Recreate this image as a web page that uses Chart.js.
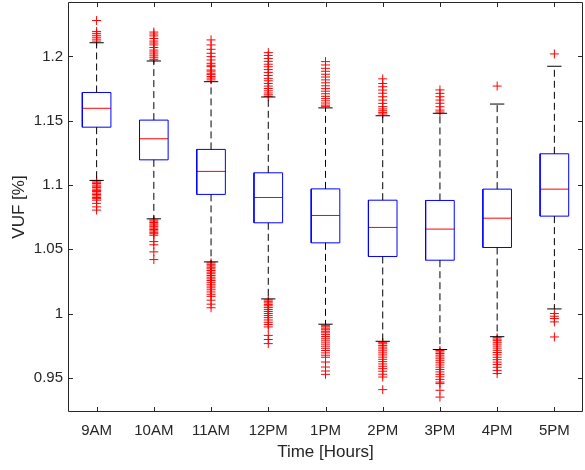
<!DOCTYPE html>
<html lang="en">
  <head>
    <meta charset="UTF-8" />
    <title>VUF by hour</title>
    <script src="https://cdn.jsdelivr.net/npm/chart.js"></script>
    <style>
      body { margin: 0; background: #fff; }
    </style>
  </head>
  <body>
    <canvas id="my-chart" width="585" height="470"></canvas>

    <script>
      //categories and tick labels
      const hours = ["9AM", "10AM", "11AM", "12PM", "1PM", "2PM", "3PM", "4PM", "5PM"];
      const yTicks = [0.95, 1, 1.05, 1.1, 1.15, 1.2];
      const yTickLabels = ["0.95", "1", "1.05", "1.1", "1.15", "1.2"];

      //box statistics
      const q1 = [1.145, 1.1196, 1.0927, 1.0706, 1.055, 1.0444, 1.0415, 1.0514, 1.0758];
      const medians = [1.1597, 1.136, 1.1106, 1.0903, 1.0763, 1.067, 1.0657, 1.0742, 1.0968];
      const q3 = [1.172, 1.1505, 1.1277, 1.1095, 1.097, 1.0882, 1.088, 1.0968, 1.1243];
      const whiskerLow = [1.1036, 1.0737, 1.0402, 1.0114, 0.9917, 0.9784, 0.972, 0.982, 1.0036];
      const whiskerHigh = [1.2107, 1.1965, 1.1804, 1.1685, 1.16, 1.1539, 1.1558, 1.163, 1.1924];

      //outliers per hour
      const outliers = [
        [1.228, 1.2195, 1.218, 1.2165, 1.215, 1.2135, 1.212,
         1.1032, 1.1022, 1.1012, 1.1, 1.0991, 1.098, 1.0968, 1.0958, 1.0949, 1.0937, 1.0926,
         1.0915, 1.0903, 1.0894, 1.0882, 1.0857, 1.083, 1.0805],
        [1.219, 1.2175, 1.216, 1.214, 1.212, 1.2105, 1.209, 1.207, 1.205, 1.2035, 1.202,
         1.2005, 1.199, 1.1975,
         1.0728, 1.0719, 1.0708, 1.0697, 1.0688, 1.0676, 1.0665, 1.0654, 1.0643, 1.0632,
         1.0621, 1.0609, 1.056, 1.0535, 1.048, 1.042],
        [1.2129, 1.209, 1.2056, 1.2025, 1.1999, 1.1973, 1.1947, 1.1921, 1.1895, 1.187,
         1.1844, 1.1818, 1.1932, 1.1886, 1.1859, 1.1832,
         1.0394, 1.0383, 1.0371, 1.036, 1.0348, 1.0335, 1.0322, 1.031, 1.0296, 1.0283,
         1.027, 1.0257, 1.0243, 1.0228, 1.0214, 1.02, 1.0185, 1.0168, 1.015, 1.0134,
         1.0104, 1.0073, 1.0045],
        [1.203, 1.2008, 1.1985, 1.1962, 1.194, 1.192, 1.1898, 1.1876, 1.1852, 1.183, 1.1811,
         1.179, 1.177, 1.1751, 1.1733, 1.1716, 1.1702, 1.169,
         1.0106, 1.0095, 1.0083, 1.0071, 1.006, 1.0046, 1.0031, 1.0016, 1.0, 0.9984,
         0.9968, 0.995, 0.9932, 0.9915, 0.9896, 0.983, 0.9798, 0.9766],
        [1.196, 1.1934, 1.1908, 1.1885, 1.1862, 1.184, 1.1818, 1.1795, 1.1772, 1.175, 1.173,
         1.171, 1.169, 1.1672, 1.1655, 1.1638, 1.1622, 1.1612,
         0.9908, 0.9897, 0.9886, 0.9874, 0.9862, 0.985, 0.9836, 0.9822, 0.9808, 0.9793,
         0.9778, 0.9762, 0.9746, 0.973, 0.9712, 0.9694, 0.9676, 0.966, 0.9623, 0.9584,
         0.9553, 0.9527],
        [1.1826, 1.179, 1.1765, 1.1739, 1.1714, 1.1687, 1.1661, 1.1635, 1.161, 1.1592,
         1.1578, 1.1565, 1.1553,
         0.9776, 0.9765, 0.9752, 0.9739, 0.9725, 0.971, 0.9694, 0.9678, 0.9661, 0.9644,
         0.9626, 0.9608, 0.959, 0.9571, 0.9551, 0.9528, 0.9506, 0.9408],
        [1.174, 1.1713, 1.1687, 1.1661, 1.1636, 1.1609, 1.1583, 1.1568,
         0.9712, 0.9701, 0.9689, 0.9676, 0.9662, 0.9648, 0.9633, 0.9617, 0.96, 0.9583,
         0.9565, 0.9546, 0.9527, 0.9508, 0.9488, 0.9467, 0.9455, 0.9403, 0.935],
        [1.177,
         0.9812, 0.9801, 0.9789, 0.9776, 0.9762, 0.9747, 0.9731, 0.9714, 0.9697, 0.9679,
         0.966, 0.9641, 0.9622, 0.9603, 0.9582, 0.9558, 0.9533],
        [1.202,
         1.0, 0.9979, 0.9961, 0.9935, 0.9818],
      ];

      //style constants
      const boxHalf = 0.25;
      const capHalf = 0.125;
      const frameColor = "#262626";

      //turn a list of segments into points with gaps between them
      function segmentPoints(segs) {
        const pts = [];
        segs.forEach((s) => {
          s.forEach((p) => pts.push({ x: p[0], y: p[1] }));
          pts.push({ x: s[s.length - 1][0], y: null });
        });
        return pts;
      }

      const boxSegs = [];
      const medianSegs = [];
      const whiskerSegs = [];
      const capSegs = [];
      const outlierPts = [];
      hours.forEach((h, i) => {
        const x = i + 1;
        boxSegs.push([
          [x - boxHalf, q1[i]], [x + boxHalf, q1[i]], [x + boxHalf, q3[i]],
          [x - boxHalf, q3[i]], [x - boxHalf, q1[i]],
        ]);
        medianSegs.push([[x - boxHalf, medians[i]], [x + boxHalf, medians[i]]]);
        whiskerSegs.push([[x, q3[i]], [x, whiskerHigh[i]]]);
        whiskerSegs.push([[x, q1[i]], [x, whiskerLow[i]]]);
        capSegs.push([[x - capHalf, whiskerHigh[i]], [x + capHalf, whiskerHigh[i]]]);
        capSegs.push([[x - capHalf, whiskerLow[i]], [x + capHalf, whiskerLow[i]]]);
        outliers[i].forEach((v) => outlierPts.push({ x: x, y: v }));
      });

      const lineDefaults = {
        showLine: true,
        pointRadius: 0,
        borderWidth: 1,
        spanGaps: false,
        tension: 0,
      };

      //axis frame and inward ticks like the original figure
      const framePlugin = {
        id: "frame",
        afterDraw(chart) {
          const { ctx, chartArea: a, scales } = chart;
          ctx.save();
          ctx.strokeStyle = frameColor;
          ctx.lineWidth = 1;
          ctx.beginPath();
          ctx.rect(Math.round(a.left) + 0.5, Math.round(a.top) + 0.5,
            Math.round(a.right - a.left) - 1, Math.round(a.bottom - a.top) - 1);
          ctx.stroke();
          const tl = 5;
          ctx.beginPath();
          hours.forEach((h, i) => {
            const px = Math.round(scales.x.getPixelForValue(i + 1)) + 0.5;
            ctx.moveTo(px, a.bottom);
            ctx.lineTo(px, a.bottom - tl);
            ctx.moveTo(px, a.top);
            ctx.lineTo(px, a.top + tl);
          });
          yTicks.forEach((v) => {
            const py = Math.round(scales.y.getPixelForValue(v)) + 0.5;
            ctx.moveTo(a.left, py);
            ctx.lineTo(a.left + tl, py);
            ctx.moveTo(a.right, py);
            ctx.lineTo(a.right - tl, py);
          });
          ctx.stroke();
          ctx.restore();
        },
      };

      const ctx = document.getElementById("my-chart").getContext("2d");
      const myChart = new Chart(ctx, {
        type: "scatter",
        data: {
          datasets: [
            {
              ...lineDefaults,
              label: "whiskers",
              data: segmentPoints(whiskerSegs),
              borderColor: "#000000",
              borderDash: [7, 4],
            },
            {
              ...lineDefaults,
              label: "caps",
              data: segmentPoints(capSegs),
              borderColor: "#000000",
            },
            {
              ...lineDefaults,
              label: "boxes",
              data: segmentPoints(boxSegs),
              borderColor: "#0000ff",
            },
            {
              ...lineDefaults,
              label: "medians",
              data: segmentPoints(medianSegs),
              borderColor: "#ff0000",
            },
            {
              label: "outliers",
              data: outlierPts,
              showLine: false,
              pointStyle: "cross",
              pointRadius: 4.5,
              pointBorderWidth: 1,
              borderColor: "#ff0000",
              backgroundColor: "#ff0000",
            },
          ],
        },
        options: {
          responsive: false,
          animation: false,
          devicePixelRatio: 1,
          layout: { autoPadding: false, padding: { left: 0, top: 2, right: 2, bottom: 0 } },
          plugins: {
            legend: { display: false },
            tooltip: { enabled: false },
          },
          scales: {
            x: {
              type: "linear",
              min: 0.5,
              max: 9.5,
              grid: { display: false, drawTicks: false },
              border: { display: false },
              afterBuildTicks: (scale) => {
                scale.ticks = hours.map((h, i) => ({ value: i + 1 }));
              },
              afterFit: (scale) => {
                scale.height = 58;
                scale.paddingLeft = 0;
                scale.paddingRight = 0;
              },
              ticks: {
                padding: 10,
                maxRotation: 0,
                autoSkip: false,
                color: frameColor,
                font: { family: "Liberation Sans, Arial, sans-serif", size: 15 },
                callback: (v) => hours[v - 1],
              },
              title: {
                display: true,
                text: "Time [Hours]",
                color: frameColor,
                padding: { top: 0, bottom: 7 },
                font: { family: "Liberation Sans, Arial, sans-serif", size: 17 },
              },
            },
            y: {
              type: "linear",
              min: 0.9234,
              max: 1.2424,
              grid: { display: false, drawTicks: false },
              border: { display: false },
              afterBuildTicks: (scale) => {
                scale.ticks = yTicks.map((v) => ({ value: v }));
              },
              afterFit: (scale) => {
                scale.width = 68;
                scale.paddingTop = 0;
                scale.paddingBottom = 0;
              },
              ticks: {
                padding: 5,
                color: frameColor,
                font: { family: "Liberation Sans, Arial, sans-serif", size: 15 },
                callback: (v) => yTickLabels[yTicks.indexOf(v)],
              },
              title: {
                display: true,
                text: "VUF [%]",
                color: frameColor,
                padding: { top: 9, bottom: 0 },
                font: { family: "Liberation Sans, Arial, sans-serif", size: 17 },
              },
            },
          },
        },
        plugins: [framePlugin],
      });
    </script>
  </body>
</html>
